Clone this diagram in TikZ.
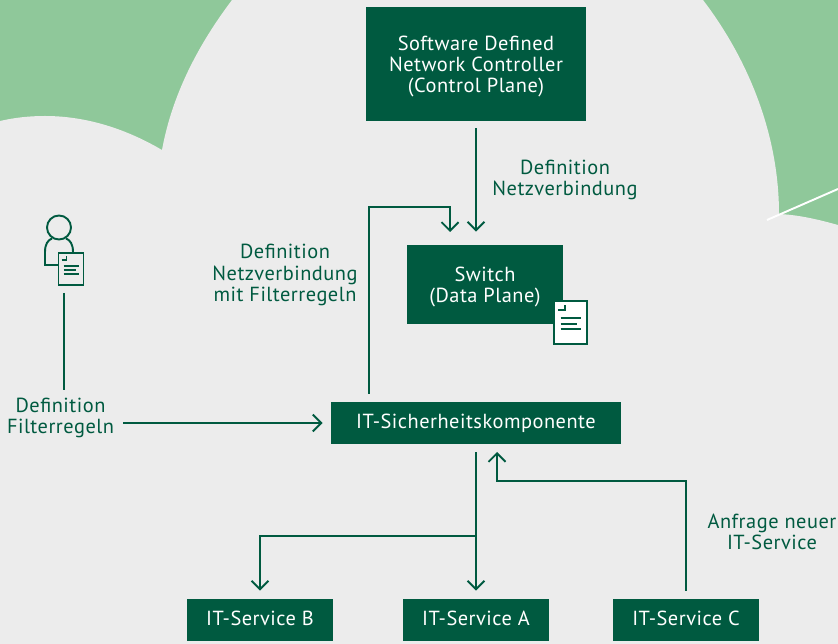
\documentclass[tikz,border=0pt]{standalone}
\usepackage{fontspec}
\setmainfont{PT Sans}[LetterSpace=2.5]
\usetikzlibrary{arrows.meta}

\definecolor{darkgreen}{RGB}{0,90,64}
\definecolor{cloudgreen}{RGB}{143,200,154}
\definecolor{cloudgray}{RGB}{236,236,236}

\tikzset{
	box/.style={fill=darkgreen, text=white, align=center, inner sep=0pt, font=\fontsize{11.6}{12}\selectfont},
	lbl/.style={text=darkgreen, align=center, inner sep=0pt, font=\fontsize{11.6}{12}\selectfont},
	conn/.style={draw=darkgreen, line width=1.1pt},
	arr/.style={conn, -{Straight Barb[length=1.7mm, width=3.4mm]}},
	pics/docicon/.style={code={
		\draw[conn, fill=#1] (0, 0) rectangle (25, 32);
		\draw[conn] (3, 7) -- (8, 7) -- (8, 3);
		\draw[conn] (5, 13) -- (20, 13);
		\draw[conn] (5, 17) -- (17, 17);
		\draw[conn] (5, 21) -- (20, 21);
	}}
}

\begin{document}
\begin{tikzpicture}[x=0.02cm, y=-0.02cm]
	\useasboundingbox (0, 0) rectangle (838, 644);

	\fill[cloudgreen] (0, 0) rectangle (838, 644);
	\fill[cloudgray] (0, 121) .. controls (15, 117.5) and (30, 116) .. (45, 116)
		.. controls (88, 116) and (128, 130) .. (162, 150)
		.. controls (172, 95) and (198, 45) .. (232, 0)
		-- (703, 0) .. controls (745, 55) and (779, 130) .. (779, 214)
		.. controls (800, 215) and (820, 220) .. (838, 225)
		-- (838, 644) -- (0, 644) -- cycle; % Cloud
	\draw[white, line width=1.1pt] (767, 220) -- (838, 189);

	\node[box, text height=35pt, minimum width=4.40cm, minimum height=2.28cm] (controller) at (476, 64) {Software Defined\\Network Controller\\(Control Plane)};
	\node[box, text height=23.4pt, minimum width=3.12cm, minimum height=1.58cm] (switch) at (485, 284.5) {Switch\\(Data Plane)};
	\node[box, minimum width=5.80cm, minimum height=0.84cm] (security) at (476, 423) {IT-Sicherheitskomponente};
	\node[box, text depth=2.3pt, minimum width=2.92cm, minimum height=0.84cm] (serviceB) at (260, 620) {IT-Service B};
	\node[box, text depth=2.3pt, minimum width=2.92cm, minimum height=0.84cm] (serviceA) at (476, 620) {IT-Service A};
	\node[box, text depth=2.3pt, minimum width=2.92cm, minimum height=0.84cm] (serviceC) at (686, 620) {IT-Service C};

	\node[lbl] (defnetz) at (565, 180) {Definition\\Netzverbindung};
	\node[lbl] (deffilter) at (285, 275) {Definition\\Netzverbindung\\mit Filterregeln};
	\node[lbl] (filterregeln) at (60.5, 418) {Definition\\Filterregeln};
	\node[lbl] (anfrage) at (772, 531.5) {Anfrage neuer\\IT-Service};

	% Person
	\draw[conn] (59, 227.5) circle[radius=12];
	\draw[conn] (58.5, 265) -- (45, 265) -- (45, 252) .. controls (45, 244) and (48, 240) .. (52, 238.5);
	\draw[conn] (66, 238.5) .. controls (70, 240) and (73, 244) .. (73, 252);
	\pic at (58.5, 253) {docicon=cloudgray};
	\coordinate (person) at (64, 293);

	\pic[scale=1.33] at (554, 301) {docicon=white}; % Document at the switch

	\coordinate (junction) at (476, 536);
	\coordinate (bendup) at (369, 207);
	\coordinate (switchin) at (450, 245);
	\coordinate (bendC) at (497, 481);
	\coordinate (securityin) at (497, 444);

	\draw[conn, shorten >=0.16cm] (person) -- (person |- filterregeln.north);
	\draw[arr, shorten <=0.18cm, shorten >=0.16cm] (filterregeln.east |- security.west) -- (security.west);
	\draw[arr, shorten <=0.14cm, shorten >=0.26cm] (controller.south) -- (controller.south |- switch.north);
	\draw[arr, shorten <=0.16cm, shorten >=0.26cm] (bendup |- security.north) -- (bendup) -| (switchin);
	\draw[arr, shorten <=0.16cm, shorten >=0.16cm] (security.south) -- (serviceA.north);
	\draw[arr, shorten >=0.16cm] (junction) -| (serviceB.north);
	\draw[arr, shorten <=0.16cm, shorten >=0.16cm] (serviceC.north) |- (bendC) -- (securityin);
\end{tikzpicture}
\end{document}
